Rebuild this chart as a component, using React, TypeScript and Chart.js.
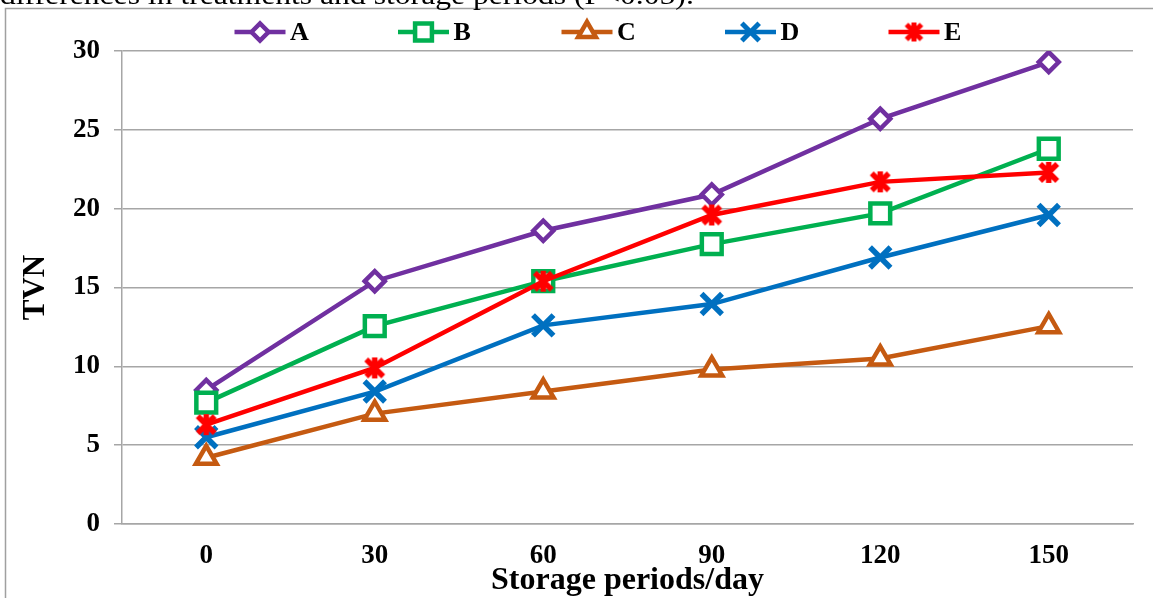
import React, { useEffect, useRef } from "react";
import { Chart, registerables } from "chart.js";
import { drawPoint } from "chart.js/helpers";

Chart.register(...registerables);

const CATEGORIES = ["0", "30", "60", "90", "120", "150"];
const SERIES_NAMES = ["A", "B", "C", "D", "E"];
const SERIES_A = [8.5, 15.4, 18.6, 20.9, 25.7, 29.3];
const SERIES_B = [7.7, 12.55, 15.4, 17.75, 19.7, 23.8];
const SERIES_C = [4.2, 7.0, 8.4, 9.8, 10.5, 12.55];
const SERIES_D = [5.5, 8.4, 12.6, 13.95, 16.9, 19.6];
const SERIES_E = [6.3, 9.9, 15.4, 19.6, 21.7, 22.3];
const Y_MIN = 0;
const Y_MAX = 30;
const Y_STEP = 5;

const COLORS = ["#7030A0", "#00B050", "#C55A11", "#0070C0", "#FF0000"];
const FONT = "'Liberation Serif', 'Times New Roman', serif";
const GRID = "#A6A6A6";

function makeStar(color: string, size: number, lw: number): HTMLCanvasElement {
  const c = document.createElement("canvas");
  c.width = size;
  c.height = size;
  const ctx = c.getContext("2d")!;
  ctx.strokeStyle = color;
  ctx.lineWidth = lw;
  ctx.lineCap = "butt";
  const m = size / 2;
  const d = size / 2 - 4;
  ctx.beginPath();
  ctx.moveTo(m - d, m - d);
  ctx.lineTo(m + d, m + d);
  ctx.moveTo(m + d, m - d);
  ctx.lineTo(m - d, m + d);
  ctx.moveTo(m, m - d - 2);
  ctx.lineTo(m, m + d + 2);
  ctx.stroke();
  return c;
}

export default function App() {
  const ref = useRef<HTMLCanvasElement | null>(null);

  useEffect(() => {
    if (!ref.current) return;
    const starPlot = makeStar(COLORS[4], 25, 5.5);
    const starLegend = makeStar(COLORS[4], 23, 5);
    const styles: any[] = ["rectRot", "rect", "triangle", "crossRot", starPlot];
    const legendStyles: any[] = ["rectRot", "rect", "triangle", "crossRot", starLegend];
    const radii = [10, 14, 12, 14.5, 12];
    const values = [SERIES_A, SERIES_B, SERIES_C, SERIES_D, SERIES_E];

    const datasets = values.map((v, i) => ({
      label: SERIES_NAMES[i],
      data: v,
      borderColor: COLORS[i],
      backgroundColor: COLORS[i],
      borderWidth: 4.5,
      pointStyle: styles[i],
      pointRadius: radii[i],
      pointBorderWidth: i === 3 ? 5.5 : 4.5,
      pointBackgroundColor: "#FFFFFF",
      pointBorderColor: COLORS[i],
      tension: 0,
      order: 4 - i,
    }));

    const framePlugin = {
      id: "frame",
      beforeDraw(chart: any) {
        const ctx = chart.ctx;
        ctx.save();
        ctx.fillStyle = "#FFFFFF";
        ctx.fillRect(0, 0, chart.width, chart.height);
        ctx.strokeStyle = "#A0A0A0";
        ctx.lineWidth = 1.5;
        ctx.beginPath();
        ctx.moveTo(5.5, chart.height);
        ctx.lineTo(5.5, 8.5);
        ctx.lineTo(chart.width, 8.5);
        ctx.stroke();
        ctx.restore();
      },
    };

    const legendPlugin = {
      id: "lineLegend",
      afterDraw(chart: any) {
        const ctx = chart.ctx;
        ctx.save();
        chart.data.datasets.forEach((ds: any, i: number) => {
          const cx = 260 + i * 163.5;
          const cy = 32;
          ctx.strokeStyle = ds.borderColor;
          ctx.lineWidth = 4.5;
          ctx.beginPath();
          ctx.moveTo(cx - 25.5, cy);
          ctx.lineTo(cx + 25.5, cy);
          ctx.stroke();
          ctx.fillStyle = "#FFFFFF";
          ctx.strokeStyle = ds.borderColor;
          const bw = i === 3 ? 5 : 4.5;
          ctx.lineWidth = bw;
          drawPoint(
            ctx,
            { pointStyle: legendStyles[i], radius: radii[i] * 0.85, borderWidth: bw, rotation: 0 } as any,
            cx,
            cy
          );
          ctx.fillStyle = "#000000";
          ctx.font = `bold 26px ${FONT}`;
          ctx.textAlign = "left";
          ctx.textBaseline = "middle";
          ctx.fillText(ds.label, cx + 30, cy + 1);
        });
        ctx.restore();
      },
    };

    const chart = new Chart(ref.current, {
      type: "line",
      data: { labels: CATEGORIES, datasets },
      plugins: [framePlugin, legendPlugin],
      options: {
        responsive: false,
        animation: false,
        layout: { padding: { top: 51, right: 20, left: 0, bottom: 0 } },
        plugins: {
          legend: { display: false },
          tooltip: { enabled: false },
        },
        scales: {
          x: {
            type: "category",
            offset: true,
            grid: { display: false, drawTicks: false },
            border: { display: true, color: GRID, width: 1.5 },
            ticks: {
              color: "#000000",
              font: { family: FONT, size: 27, weight: "bold", lineHeight: 1.2 },
              padding: 16,
              maxRotation: 0,
            },
            title: {
              display: true,
              text: "Storage periods/day",
              color: "#000000",
              font: { family: FONT, size: 32, weight: "bold", lineHeight: 1.05 },
              padding: { top: 0, bottom: 0 },
            },
            afterFit: (s: any) => {
              s.height = 74;
            },
          },
          y: {
            min: Y_MIN,
            max: Y_MAX,
            grid: {
              color: GRID,
              lineWidth: 1.5,
              drawTicks: true,
              tickLength: 8,
              tickColor: GRID,
            },
            border: { display: true, color: GRID, width: 1.5 },
            ticks: {
              stepSize: Y_STEP,
              color: "#000000",
              font: { family: FONT, size: 27, weight: "bold" },
              padding: 14,
            },
            title: {
              display: true,
              text: "TVN",
              color: "#000000",
              font: { family: FONT, size: 31, weight: "bold", lineHeight: 1.2 },
              padding: { top: 17, bottom: 0 },
            },
            afterFit: (s: any) => {
              s.width = 122;
            },
          },
        },
      },
    });
    return () => chart.destroy();
  }, []);

  return (
    <div
      style={{
        position: "fixed",
        left: 0,
        top: 0,
        width: 1153,
        height: 598,
        overflow: "hidden",
        background: "#FFFFFF",
      }}
    >
      <canvas ref={ref} width={1153} height={598} style={{ position: "absolute", left: 0, top: 0 }} />
      <div
        style={{
          position: "absolute",
          left: 0,
          top: -19,
          fontFamily: FONT,
          fontSize: 28,
          lineHeight: "28px",
          whiteSpace: "nowrap",
          color: "#000000",
          transform: "scaleX(1.13)",
          transformOrigin: "left top",
        }}
      >
        differences in treatments and storage periods (P&lt;0.05).
      </div>
    </div>
  );
}
